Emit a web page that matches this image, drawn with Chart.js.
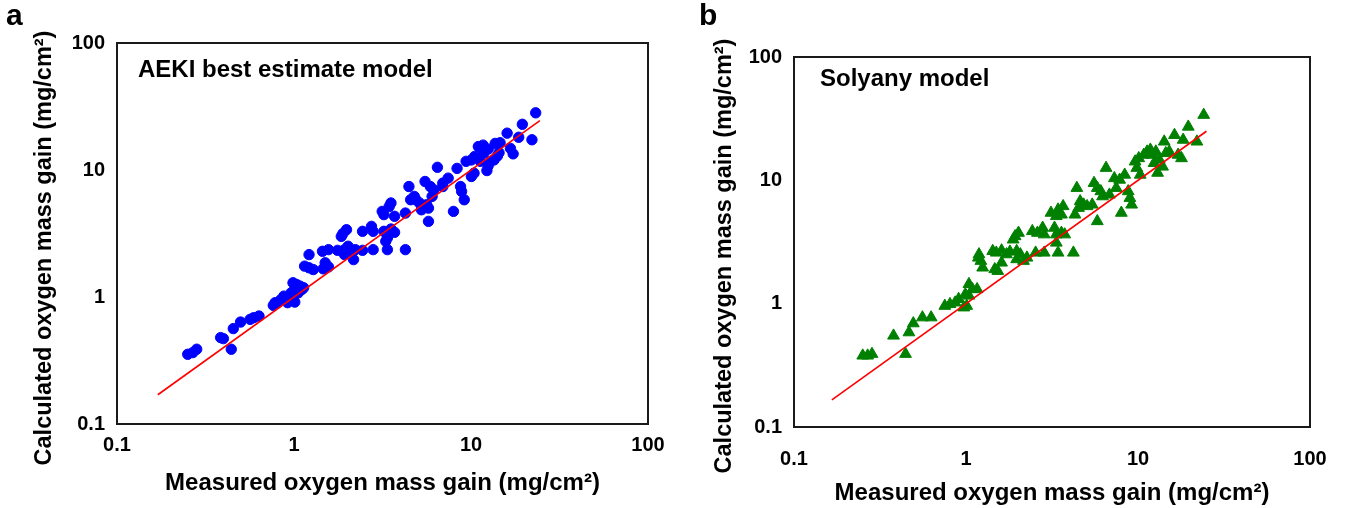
<!DOCTYPE html>
<html>
<head>
<meta charset="utf-8">
<script src="https://cdn.jsdelivr.net/npm/chart.js@4/dist/chart.umd.min.js"></script>
<style>
  html, body { margin: 0; padding: 0; background: #fff; }
  #wrapA { position: absolute; left: 0; top: 0; }
  #wrapB { position: absolute; left: 674px; top: 0; }
</style>
</head>
<body>
<div id="wrapA"><canvas id="chartA" width="674" height="508"></canvas></div>
<div id="wrapB"><canvas id="chartB" width="674" height="508"></canvas></div>
<script>
// ===== data (mg/cm2) =====
var tickValues = [0.1, 1, 10, 100];
var tickLabels = ['0.1', '1', '10', '100'];

// a: AEKI best estimate model
var aekiMeasured = [0.251, 0.268, 0.282, 0.385, 0.399, 0.442, 0.454, 0.499, 0.565, 0.592, 0.634, 0.764, 0.80, 0.838, 0.877, 0.92, 0.942, 0.964, 1.01, 0.987,
    1.033, 1.081, 1.133, 1.01, 0.987, 1.148, 1.216, 1.285, 1.462, 1.566, 1.216, 1.449, 1.566, 1.762, 1.93, 2.07, 2.22, 2.44, 2.80, 3.37,
    4.26, 1.93, 2.17, 2.02, 1.89, 1.98, 1.85, 2.44, 2.74, 2.80, 3.22, 3.53, 3.70, 3.30, 3.22, 3.15, 3.53, 3.45, 3.70, 4.26,
    4.46, 4.56, 4.89, 5.12, 5.62, 5.75, 6.03, 5.75, 5.50, 5.89, 6.17, 6.46, 6.93, 7.43, 7.96, 8.34, 8.73, 8.85, 9.16, 9.38,
    10.05, 10.5, 10.05, 10.4, 11.0, 11.7, 12.5, 12.3, 12.5, 12.9, 13.5, 14.1, 14.4, 13.7, 14.6, 16.0, 16.7, 17.3, 18.6, 19.5,
    22.1, 23.2, 1.057, 1.107, 0.782, 1.50, 3.37, 5.25, 6.93, 11.8, 11.3, 4.78];
var aekiCalculated = [0.354, 0.365, 0.388, 0.479, 0.47, 0.388, 0.564, 0.635, 0.667, 0.687, 0.708, 0.859, 0.891, 0.946, 1.016, 0.902, 0.986, 1.079, 1.146, 1.294,
    1.256, 1.219, 1.183, 0.912, 0.946, 1.75, 1.698, 1.644, 1.667, 1.726, 2.157, 2.29, 2.36, 2.33, 2.36, 2.29, 2.36, 2.33, 2.36, 2.36,
    2.36, 2.157, 1.97, 2.51, 3.16, 3.39, 3.0, 3.29, 3.6, 3.29, 3.29, 3.43, 3.23, 2.75, 4.45, 4.72, 5.50, 5.16, 4.32, 4.58,
    7.41, 5.83, 5.83, 5.50, 5.33, 5.01, 6.20, 3.94, 8.12, 7.41, 6.98, 10.5, 7.89, 8.63, 4.72, 10.3, 7.41, 6.78, 5.83, 11.7,
    12.0, 12.8, 8.89, 9.44, 15.3, 15.7, 14.6, 9.9, 10.8, 11.7, 12.0, 12.9, 13.7, 16.2, 16.4, 19.5, 14.8, 13.4, 18.1, 22.9,
    17.3, 28.2, 1.079, 1.146, 0.902, 1.86, 2.92, 4.86, 7.41, 13.6, 11.7, 6.20];
var aekiLine = [0.17, 24.5];

// b: Solyany model
var solMeasured = [0.251, 0.268, 0.284, 0.379, 0.445, 0.466, 0.494, 0.558, 0.627, 0.753, 0.807, 0.865, 0.906, 0.971, 1.01, 1.04, 1.09, 1.16, 1.04, 0.991,
    1.19, 1.22, 1.25, 1.18, 1.47, 1.53, 1.61, 1.50, 1.43, 1.61, 1.80, 1.97, 2.07, 2.16, 1.97, 2.26, 1.93, 2.02, 1.88, 2.43,
    2.60, 2.79, 2.85, 3.27, 3.35, 3.59, 3.75, 2.54, 2.85, 3.43, 4.21, 3.35, 3.12, 3.43, 3.67, 3.59, 3.35, 4.30, 4.41, 4.61,
    4.83, 5.06, 5.42, 5.80, 5.55, 5.80, 6.08, 6.22, 6.52, 6.82, 7.47, 8.0, 7.82, 8.37, 8.77, 8.97, 9.18, 9.62, 10.1, 10.3,
    10.8, 11.3, 11.8, 12.1, 12.7, 13.0, 13.9, 14.2, 14.5, 15.2, 16.3, 17.1, 17.9, 18.3, 19.6, 22.0, 24.1, 13.3, 12.4, 9.84,
    7.29, 4.51, 1.72];
var solCalculated = [0.379, 0.379, 0.391, 0.55, 0.391, 0.585, 0.692, 0.773, 0.773, 0.959, 0.991, 1.02, 1.09, 0.931, 0.959, 1.16, 1.31, 1.31, 1.44, 1.19,
    2.51, 2.22, 1.96, 2.36, 1.90, 1.84, 2.15, 2.59, 2.67, 2.70, 2.64, 2.67, 2.51, 2.22, 2.29, 2.36, 3.52, 3.75, 3.31, 3.87,
    3.75, 4.12, 3.64, 4.12, 3.64, 3.75, 3.64, 2.59, 2.59, 2.59, 2.59, 3.12, 5.45, 5.79, 6.17, 5.27, 5.12, 5.27, 8.67, 6.76,
    6.35, 6.17, 6.35, 4.66, 9.51, 8.67, 8.15, 7.41, 12.6, 7.65, 8.67, 5.45, 10.1, 11.1, 8.15, 7.19, 6.35, 14.2, 15.1, 11.1,
    16.1, 17.1, 17.7, 16.1, 17.1, 11.5, 12.9, 20.6, 16.6, 17.1, 23.3, 16.1, 15.1, 21.3, 27.2, 20.6, 33.9, 14.7, 13.8, 12.6,
    10.4, 5.97, 2.51];
var solLine = [0.166, 25];

var FONT = '"Liberation Sans", Arial, Helvetica, sans-serif';
var Y_TITLE = 'Calculated oxygen mass gain (mg/cm²)';
var X_TITLE = 'Measured oxygen mass gain (mg/cm²)';

// box round the plot, panel letter, model name and the (shifted) y title
var framePlugin = {
    id: 'frame',
    beforeDatasetsDraw: function (chart, args, opts) {
        var a = chart.chartArea;
        var c = chart.ctx;
        c.save();
        c.strokeStyle = '#1a1a1a';
        c.lineWidth = 2;
        c.strokeRect(a.left, a.top, a.right - a.left, a.bottom - a.top);
        c.fillStyle = '#000';
        c.textBaseline = 'middle';
        c.textAlign = 'left';
        c.font = 'bold 24px ' + FONT;
        c.fillText(opts.note, a.left + opts.noteX, a.top + opts.noteY);
        c.font = 'bold 30px ' + FONT;
        c.fillText(opts.letter, opts.letterX, opts.letterY);
        // y title
        c.translate(opts.yTitleX, opts.yTitleY);
        c.rotate(-Math.PI / 2);
        c.textAlign = 'center';
        c.font = 'bold 23.5px ' + FONT;
        c.fillText(Y_TITLE, 0, 0);
        c.restore();
    }
};

function toPoints(xs, ys) {
    return xs.map(function (x, i) { return { x: x, y: ys[i] }; });
}

function logAxis(title, size, pad, titlePad) {
    return {
        type: 'logarithmic',
        min: 0.1,
        max: 100,
        grid: { display: false, drawTicks: false },
        border: { display: false },
        afterBuildTicks: function (scale) {
            scale.ticks = tickValues.map(function (v) { return { value: v }; });
        },
        afterFit: function (scale) {
            if (scale.isHorizontal()) scale.height = size; else scale.width = size;
        },
        ticks: {
            autoSkip: false,
            maxRotation: 0,
            padding: pad,
            color: '#000',
            font: { family: FONT, size: 20, weight: 'bold' },
            callback: function (v) {
                var i = tickValues.indexOf(v);
                return i < 0 ? '' : tickLabels[i];
            }
        },
        title: {
            display: title !== '',
            text: title,
            color: '#000',
            padding: titlePad,
            font: { family: FONT, size: 24, weight: 'bold' }
        }
    };
}

function makeChart(id, measured, calculated, line, marker, layout) {
    var ctx = document.getElementById(id).getContext('2d');
    return new Chart(ctx, {
        type: 'scatter',
        data: {
            datasets: [{
                label: 'y = x',
                data: toPoints(line, line),
                showLine: true,
                borderColor: '#ff0000',
                borderWidth: 1.6,
                pointRadius: 0,
                order: 0
            }, {
                label: 'calculated',
                data: toPoints(measured, calculated),
                pointStyle: marker.style,
                pointRadius: marker.radius,
                backgroundColor: marker.color,
                borderColor: marker.color,
                borderWidth: 1,
                order: 1
            }]
        },
        options: {
            responsive: false,
            animation: false,
            layout: { padding: layout.padding },
            plugins: {
                legend: { display: false },
                tooltip: { enabled: false },
                frame: layout.frame
            },
            scales: {
                x: logAxis(X_TITLE, layout.xHeight, layout.xPad, layout.xTitlePad),
                // y title is drawn by the frame plugin, space kept by afterFit
                y: logAxis('', layout.yWidth, 12, { top: 4, bottom: 4 })
            }
        },
        plugins: [framePlugin]
    });
}

makeChart('chartA', aekiMeasured, aekiCalculated, aekiLine,
    { style: 'circle', radius: 5.2, color: '#0000ff' },
    {
        padding: { left: 27, right: 26, top: 43, bottom: 6 },
        xHeight: 78, xPad: 9, yWidth: 90, xTitlePad: { top: 4, bottom: 4 },
        frame: { note: 'AEKI best estimate model', noteX: 21, noteY: 27, letter: 'a', letterX: 6, letterY: 17,
            yTitleX: 45, yTitleY: 248 }
    });

makeChart('chartB', solMeasured, solCalculated, solLine,
    { style: 'triangle', radius: 6.8, color: '#008000' },
    {
        padding: { left: 33, right: 38, top: 57, bottom: 0 },
        xHeight: 81, xPad: 20, yWidth: 87, xTitlePad: { top: 4, bottom: 0 },
        frame: { note: 'Solyany model', noteX: 26, noteY: 22, letter: 'b', letterX: 25, letterY: 17,
            yTitleX: 51, yTitleY: 256 }
    });
</script>
</body>
</html>
